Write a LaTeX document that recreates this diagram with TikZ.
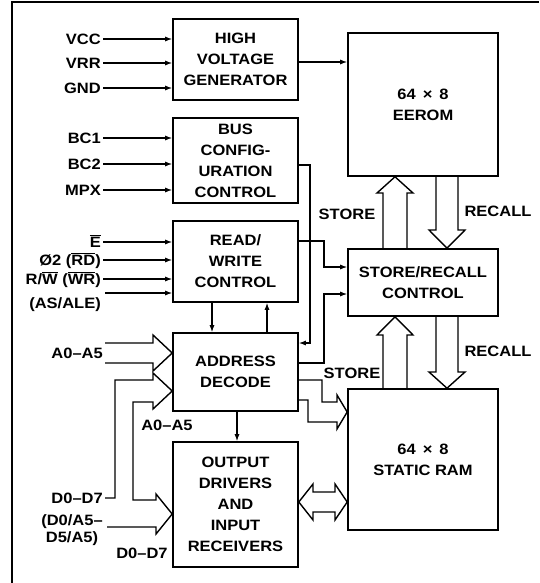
\documentclass[tikz,border=0pt]{standalone}
\usepackage{fontspec}
\newfontfamily\diafont{Liberation Sans}[FakeStretch=1.1]
\usetikzlibrary{arrows.meta,positioning}
\newcommand{\ovl}[1]{$\overline{\mbox{#1}}$}

\begin{document}
\begin{tikzpicture}[x=1pt, y=-1pt, every node/.style={font=\diafont\bfseries\fontsize{15}{21}\selectfont},
  box/.style={draw,line width=1.6pt,align=center,inner sep=0pt,fill=white,minimum width=125pt},
  mem/.style={box,minimum width=150pt},
  arr/.style={line width=1.2pt,-{Latex[length=7pt,width=5pt]}},
  bus/.style={line width=1.4pt,line join=miter},
  pin/.style={anchor=east,inner sep=2pt,text height=10.5pt,text depth=0pt}]
\useasboundingbox (0,0) rectangle (539,583);
\draw[line width=1.2pt] (539,2) -- (12,2) -- (12,583);
% blocks
\node[box,minimum height=81pt] (hvg) at (235.5,59.5) {HIGH\\VOLTAGE\\GENERATOR};
\node[box,minimum height=85pt] (bus) at (235.5,160.5) {BUS\\CONFIG-\\URATION\\CONTROL};
\node[box,minimum height=81pt] (rw) at (235.5,261.5) {READ/\\WRITE\\CONTROL};
\node[box,minimum height=78pt] (adr) at (235.5,372) {ADDRESS\\DECODE};
\node[box,minimum height=125pt] (odr) at (235.5,504.5) {OUTPUT\\DRIVERS\\AND\\INPUT\\RECEIVERS};
\node[mem,minimum height=143pt] (eerom) at (423,104.5) {64 \,×\, 8\\EEROM};
\node[mem,minimum height=67pt] (src) at (423,282.5) {STORE/RECALL\\CONTROL};
\node[mem,minimum height=141pt] (sram) at (423,459.5) {64 \,×\, 8\\STATIC RAM};
% pins
\node[pin] (vcc) at (103,39) {VCC};
\node[pin] (vrr) at (103,63) {VRR};
\node[pin] (gnd) at (103,88) {GND};
\node[pin] (bc1) at (103,138) {BC1};
\node[pin] (bc2) at (103,164) {BC2};
\node[pin] (mpx) at (103,190) {MPX};
\node[pin] (ebar) at (103,242) {\ovl{E}};
\node[pin] (rd) at (103,260) {Ø2 (\ovl{RD})};
\node[pin] (wr) at (103,279) {R/\ovl{W} (\ovl{WR})};
\node[pin] (ale) at (103,303) {(AS/ALE)};
\node[pin] (a0) at (105,353) {A0–A5};
\node[pin] (d0) at (105,498) {D0–D7};
\node[align=center,font=\diafont\bfseries\fontsize{15}{17}\selectfont] (dmux) at (72,530) {(D0/A5–\\D5/A5)};
\node (ain) at (167,425) {A0–A5};
\node (dout) at (142,553) {D0–D7};
\node (st1) at (347,214) {STORE};
\node (st2) at (352,373) {STORE};
\node (rc1) at (498,211) {RECALL};
\node (rc2) at (498,351) {RECALL};
\coordinate (alein) at (105,293);
\coordinate (dmx) at (107,527);
% inputs
\foreach \p in {vcc,vrr,gnd} \draw[arr] (\p.east) -- (\p.east -| hvg.west);
\foreach \p in {bc1,bc2,mpx} \draw[arr] (\p.east) -- (\p.east -| bus.west);
\foreach \p in {ebar,rd,wr} \draw[arr] (\p.east) -- (\p.east -| rw.west);
\draw[arr] (alein) -- (alein -| rw.west);
% control lines
\draw[arr] (hvg.east |- 0,62) -- (eerom.west |- 0,62);
\draw[arr] (bus.east |- 0,165) -| (310,343) -- (adr.east |- 0,343);
\draw[arr] (rw.east |- 0,241) -| (324,267) -- (src.west |- 0,267);
\draw[arr] (adr.east |- 0,363) -| (324,294) -- (src.west |- 0,294);
\draw[arr] (rw.south -| 212,0) -- (adr.north -| 212,0);
\draw[arr] (adr.north -| 267,0) -- (rw.south -| 267,0);
\draw[arr] (adr.south -| 237,0) -- (odr.north -| 237,0);
% buses
\draw[bus] (a0.east |- 0,343) -- (153,343) -- (153,335) -- (adr.west |- 0,353) -- (153,371) -- (153,363) -- (a0.east |- 0,363);
\draw[bus] (d0.east) -- (115,498) -- (115,380) -- (153,380) -- (153,373) -- (adr.west |- 0,391) -- (153,409) -- (153,402) -- (133,402) -- (133,500) -- (156,500) -- (156,494) -- (odr.west |- 0,514) -- (156,534) -- (156,527) -- (dmx);
\draw[bus] (adr.east |- 0,380) -- (322,380) -- (322,402) -- (337,402) -- (337,395) -- (sram.west |- 0,412) -- (337,429) -- (337,422) -- (308,422) -- (308,400) -- (adr.east |- 0,400);
\draw[bus] (odr.east |- 0,502) -- (313,484) -- (313,492) -- (335,492) -- (335,484) -- (sram.west |- 0,502) -- (335,520) -- (335,512) -- (313,512) -- (313,520) -- cycle;
\draw[bus] (src.north -| 383,0) -- (383,193) -- (377,193) -- (eerom.south -| 395,0) -- (413,193) -- (407,193) -- (src.north -| 407,0);
\draw[bus] (eerom.south -| 436,0) -- (436,230) -- (429,230) -- (src.north -| 447,0) -- (465,230) -- (458,230) -- (eerom.south -| 458,0);
\draw[bus] (sram.north -| 383,0) -- (383,335) -- (377,335) -- (src.south -| 395,0) -- (413,335) -- (407,335) -- (sram.north -| 407,0);
\draw[bus] (src.south -| 436,0) -- (436,372) -- (429,372) -- (sram.north -| 447,0) -- (465,372) -- (458,372) -- (src.south -| 458,0);
\end{tikzpicture}
\end{document}
